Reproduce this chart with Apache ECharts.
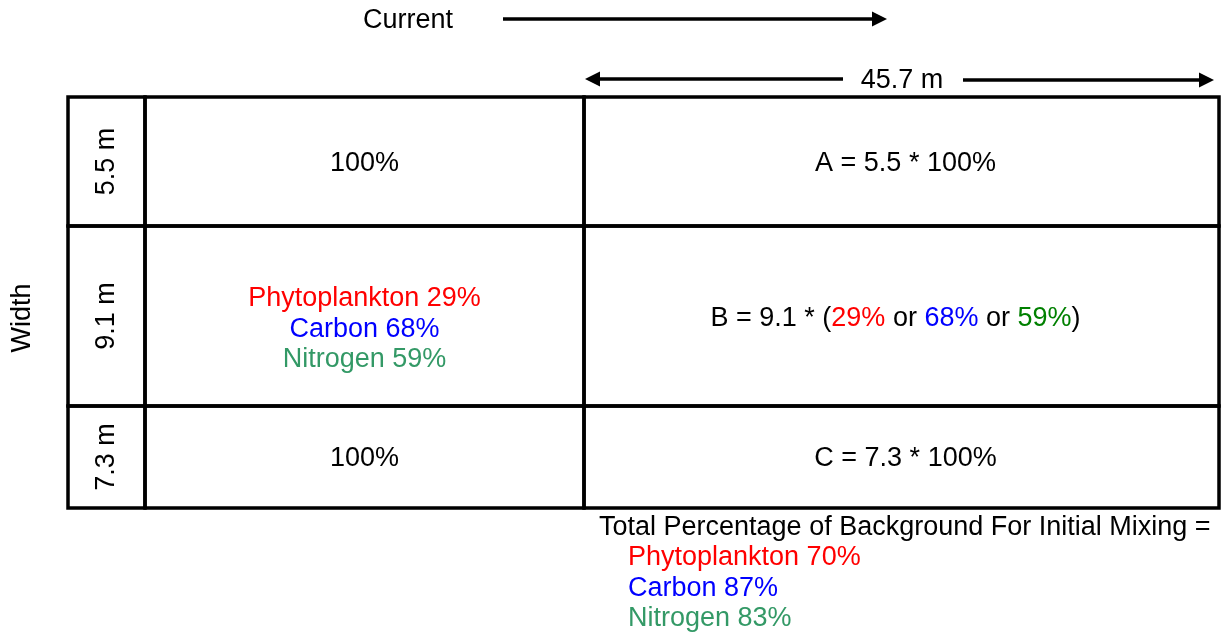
<!DOCTYPE html>
<html>
<head>
<meta charset="utf-8">
<script src="https://cdn.jsdelivr.net/npm/echarts@6/dist/echarts.min.js"></script>
<style>html,body{margin:0;padding:0;background:#fff}#c{width:1227px;height:635px}</style>
</head>
<body>
<div id="c"></div>
<script>
// ---- data ----
const species = ['Phytoplankton', 'Carbon', 'Nitrogen'];
const middlePct = [29, 68, 59];
const totalPct = [70, 87, 83];
const rowWidths = [5.5, 9.1, 7.3];
const rowKeys = ['A', 'B', 'C'];
const reachLength = 45.7;
const rowPct = [100, null, 100]; // null = species-dependent row

// ---- layout / styles ----
const FONT = '"Liberation Sans", Arial, sans-serif';
const FS = 27;
const speciesColors = ['#ff0000', '#0000ff', '#339966'];
const formulaColors = ['#ff0000', '#0000ff', '#008000'];
const rowEdges = [0, 129, 309, 411];
const colEdges = [0, 77, 516, 1151];
const LW = 3.5;

const chart = echarts.init(document.getElementById('c'), null, {renderer: 'canvas'});

function renderItem(params, api) {
  const i = api.value(0);
  const y0 = rowEdges[i], y1 = rowEdges[i + 1];
  const children = [];
  for (let c = 0; c < 3; c++) {
    const p0 = api.coord([colEdges[c], y0]);
    const p1 = api.coord([colEdges[c + 1], y1]);
    children.push({
      type: 'rect',
      shape: {x: p0[0], y: p0[1], width: p1[0] - p0[0], height: p1[1] - p0[1]},
      style: {fill: null, stroke: '#000', lineWidth: LW}
    });
  }
  const ym = api.coord([0, (y0 + y1) / 2])[1];
  const xl = api.coord([(colEdges[0] + colEdges[1]) / 2, 0])[0];
  const xm = api.coord([(colEdges[1] + colEdges[2]) / 2, 0])[0];
  const xr = api.coord([(colEdges[2] + colEdges[3]) / 2, 0])[0];
  // row width label (vertical)
  children.push({
    type: 'text', x: xl, y: ym, rotation: Math.PI / 2,
    style: {text: rowWidths[i] + ' m', font: FS + 'px ' + FONT, fill: '#000', align: 'center', verticalAlign: 'middle'}
  });
  if (rowPct[i] !== null) {
    children.push({
      type: 'text', x: xm, y: ym + 2,
      style: {text: rowPct[i] + '%', font: FS + 'px ' + FONT, fill: '#000', align: 'center', verticalAlign: 'middle'}
    });
    children.push({
      type: 'text', x: xr + 4, y: ym + 2,
      style: {text: rowKeys[i] + ' = ' + rowWidths[i] + ' * ' + rowPct[i] + '%', font: FS + 'px ' + FONT, fill: '#000', align: 'center', verticalAlign: 'middle'}
    });
  } else {
    species.forEach(function (s, k) {
      children.push({
        type: 'text', x: xm, y: ym - 17 + k * 30.5,
        style: {text: s + ' ' + middlePct[k] + '%', font: FS + 'px ' + FONT, fill: speciesColors[k], align: 'center', verticalAlign: 'middle'}
      });
    });
    const rich = {k: {fill: '#000', font: FS + 'px ' + FONT}};
    let txt = '{k|' + rowKeys[i] + ' = ' + rowWidths[i] + ' * (}';
    middlePct.forEach(function (v, k) {
      rich['s' + k] = {fill: formulaColors[k], font: FS + 'px ' + FONT};
      txt += '{s' + k + '|' + v + '%}';
      txt += (k < middlePct.length - 1) ? '{k| or }' : '{k|)}';
    });
    children.push({
      type: 'text', x: xr - 6, y: ym + 3,
      style: {text: txt, rich: rich, font: FS + 'px ' + FONT, align: 'center', verticalAlign: 'middle'}
    });
  }
  return {type: 'group', children: children};
}

function arrow(x1, x2, y, headAtStart, headAtEnd) {
  const hl = 15, hw = 7.5;
  const els = [];
  const ls = headAtStart ? x1 + hl - 1 : x1;
  const le = headAtEnd ? x2 - hl + 1 : x2;
  els.push({type: 'line', shape: {x1: ls, y1: y, x2: le, y2: y}, style: {stroke: '#000', lineWidth: 3.5}});
  if (headAtStart) els.push({type: 'polygon', shape: {points: [[x1, y], [x1 + hl, y - hw], [x1 + hl, y + hw]]}, style: {fill: '#000'}});
  if (headAtEnd) els.push({type: 'polygon', shape: {points: [[x2, y], [x2 - hl, y - hw], [x2 - hl, y + hw]]}, style: {fill: '#000'}});
  return els;
}

const totalLines = [{text: 'Total Percentage of Background For Initial Mixing =', fill: '#000', x: 599, y: 528}];
species.forEach(function (s, k) {
  totalLines.push({text: s + ' ' + totalPct[k] + '%', fill: speciesColors[k], x: 628, y: 558 + k * 30.5});
});

const graphics = []
  .concat([{type: 'text', x: 408, y: 21, style: {text: 'Current', font: FS + 'px ' + FONT, fill: '#000', align: 'center', verticalAlign: 'middle'}}])
  .concat(arrow(503, 887, 19, false, true))
  .concat([{type: 'text', x: 902, y: 81, style: {text: reachLength + ' m', font: FS + 'px ' + FONT, fill: '#000', align: 'center', verticalAlign: 'middle'}}])
  .concat(arrow(585, 843, 79, true, false))
  .concat(arrow(963, 1214, 80, false, true))
  .concat([{type: 'text', x: 23, y: 318, rotation: Math.PI / 2, style: {text: 'Width', font: FS + 'px ' + FONT, fill: '#000', align: 'center', verticalAlign: 'middle'}}])
  .concat(totalLines.map(function (t) {
    return {type: 'text', x: t.x, y: t.y, style: {text: t.text, font: FS + 'px ' + FONT, fill: t.fill, align: 'left', verticalAlign: 'middle'}};
  }));

chart.setOption({
  animation: false,
  grid: {left: 68, top: 97, width: 1151, height: 411, show: false},
  xAxis: {type: 'value', min: 0, max: colEdges[3], show: false},
  yAxis: {type: 'value', min: 0, max: rowEdges[3], inverse: true, show: false},
  series: [{
    type: 'custom',
    renderItem: renderItem,
    data: rowWidths.map(function (w, i) { return [i, w]; }),
    clip: false,
    silent: true
  }],
  graphic: graphics
});
</script>
</body>
</html>
